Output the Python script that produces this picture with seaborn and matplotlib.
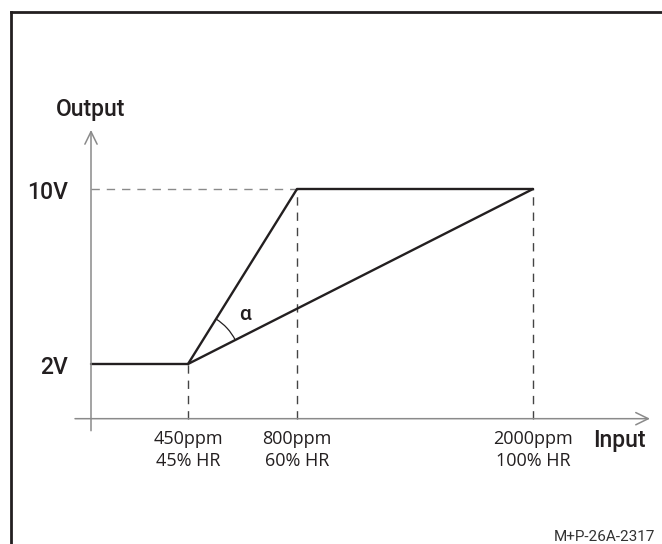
import matplotlib
matplotlib.use("Agg")
import matplotlib.pyplot as plt
from matplotlib.patches import Arc
import numpy as np
import seaborn as sns

sns.set_theme(style="white")
plt.rcParams['font.family'] = ['Roboto', 'DejaVu Sans']

# ---------------------------------------------------------------
# datos del esquema (eje de entrada esquemático, no lineal en ppm)
# ---------------------------------------------------------------
input_ppm_labels = ['450ppm', '800ppm', '2000ppm']
input_hr_labels = ['45% HR', '60% HR', '100% HR']
input_pos = [0.97, 2.06, 4.42]
output_levels = [2, 10]
output_labels = ['2V', '10V']

# curva rápida: 2V hasta 450ppm, sube a 10V en 800ppm y se mantiene
fast_x = [0, input_pos[0], input_pos[1], input_pos[2]]
fast_y = [2, 2, 10, 10]
# curva lenta: de 2V en 450ppm a 10V en 2000ppm
slow_x = [input_pos[0], input_pos[2]]
slow_y = [2, 10]

axis_y = -0.5          # nivel del eje de entrada
ink = '#231f20'
grey = '#8a8a8a'

fig = plt.figure(figsize=(6.62, 5.44), dpi=100)
ax = fig.add_axes([0, 0, 1, 1])
ax.set_xlim(-0.91, 5.71)
ax.set_ylim(-6.229, 18.64)
ax.axis('off')

# marco recortado (solo lados izquierdo y superior visibles)
ax.plot([0.016, 0.016], [0, 0.978], transform=ax.transAxes, color=ink, lw=2.0, solid_capstyle='projecting')
ax.plot([0.016, 1], [0.978, 0.978], transform=ax.transAxes, color=ink, lw=2.0, solid_capstyle='projecting')

# ejes con flecha abierta
arrow = dict(arrowstyle='->,head_length=0.45,head_width=0.22', color=grey, lw=1.1,
             shrinkA=0, shrinkB=0, mutation_scale=20)
ax.annotate('', xy=(0, 12.7), xytext=(0, -1.05), arrowprops=arrow)
ax.annotate('', xy=(5.59, axis_y), xytext=(-0.16, axis_y), arrowprops=arrow)

# líneas auxiliares discontinuas
ax.plot([0, input_pos[1]], [output_levels[1]] * 2, color=grey, lw=1.0, ls=(0, (6, 5)))
for x, top in zip(input_pos, [2, 10, 10]):
    ax.plot([x, x], [axis_y, top], color='#444444', lw=1.0, ls=(0, (6, 5)))

# curvas de salida
sns.lineplot(x=fast_x, y=fast_y, ax=ax, color=ink, lw=1.7, sort=False, estimator=None)
sns.lineplot(x=slow_x, y=slow_y, ax=ax, color=ink, lw=1.7, sort=False, estimator=None)

# arco del ángulo alfa entre ambas curvas
x0 = input_pos[0]
ang_fast = np.degrees(np.arctan2(fast_y[2] - fast_y[1], fast_x[2] - fast_x[1]))
ang_slow = np.degrees(np.arctan2(slow_y[1] - slow_y[0], slow_x[1] - slow_x[0]))
r_px = 53
ax.add_patch(Arc((x0, 2), width=2 * r_px / 100, height=2 * r_px / 21.875,
                 theta1=ang_slow, theta2=ang_fast, color=ink, lw=0.9))
ax.text(1.54, 4.24, 'α', fontsize=15, color=ink, ha='center', va='center', fontweight='medium')

# textos de ejes
ax.text(0, 13.34, 'Output', fontsize=16.5, color=ink, ha='center', va='baseline', fontweight='medium')
ax.text(5.02, -1.79, 'Input', fontsize=16.5, color=ink, ha='left', va='baseline', fontweight='medium')
for lvl, lab in zip(output_levels, output_labels):
    ax.text(-0.23, lvl - 0.15, lab, fontsize=16.5, color=ink, ha='right', va='center', fontweight='medium')

for x, l1, l2 in zip(input_pos, input_ppm_labels, input_hr_labels):
    ax.text(x, -1.66, l1, fontsize=13, color=ink, ha='center', va='baseline', family='Open Sans')
    ax.text(x, -2.66, l2, fontsize=13, color=ink, ha='center', va='baseline', family='Open Sans')

ax.text(5.64, -5.91, 'M+P-26A-2317', fontsize=11, color='#333333', ha='right', va='center')

fig.savefig('out.png', dpi=100)
